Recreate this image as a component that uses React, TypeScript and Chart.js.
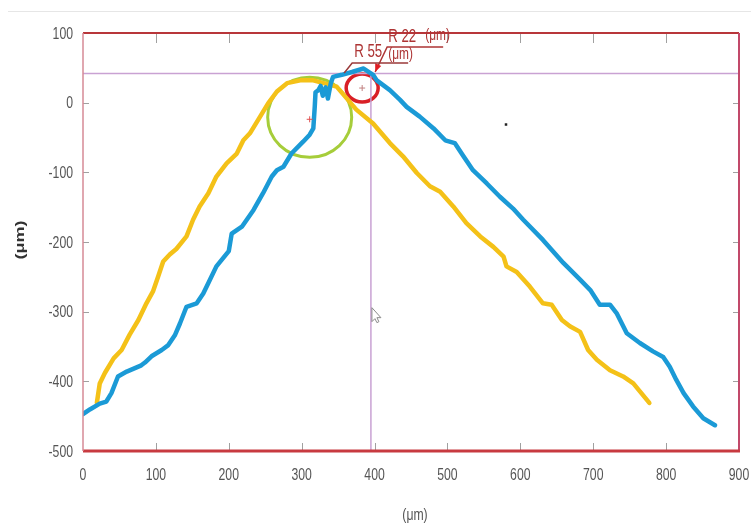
import React, { useEffect, useRef } from "react";
import { Chart, registerables } from "chart.js";
Chart.register(...registerables);

// Blue profile (µm)
const blueX = [0, 10, 23, 32, 39, 48, 60, 80, 85, 94, 108, 117, 126, 133, 142, 156, 165, 172, 183, 200, 204, 218, 234, 247, 259, 266, 275, 286, 302, 311, 316, 318, 319, 323, 326, 329, 333, 336, 340, 343, 355, 369, 385, 398, 403, 421, 435, 444, 462, 481, 497, 510, 522, 535, 554, 572, 590, 604, 631, 659, 682, 696, 709, 723, 732, 746, 764, 782, 796, 805, 814, 824, 837, 851, 867];
const blueY = [-447, -440, -432, -429, -417, -393, -386, -377, -373, -364, -355, -348, -334, -317, -293, -288, -274, -259, -235, -213, -188, -178, -154, -130, -106, -97, -92, -73, -56, -46, -37, -5, 15, 18, 24, 10, 22, 6, 28, 37, 40, 44, 49, 40, 32, 18, 4, -6, -20, -37, -54, -58, -77, -97, -116, -135, -152, -168, -197, -230, -254, -269, -290, -290, -302, -331, -345, -357, -365, -379, -398, -417, -436, -453, -463];

// Yellow profile (µm)
const yellowX = [19, 23, 30, 42, 53, 64, 76, 87, 96, 103, 110, 119, 128, 142, 151, 160, 172, 183, 197, 211, 220, 229, 243, 254, 266, 280, 298, 316, 330, 348, 375, 398, 421, 439, 458, 476, 490, 508, 526, 545, 563, 577, 581, 595, 613, 631, 643, 657, 668, 682, 693, 705, 723, 741, 755, 766, 777];
const yellowY = [-431, -403, -388, -367, -355, -333, -312, -288, -271, -250, -228, -218, -210, -192, -168, -149, -130, -106, -87, -73, -54, -44, -20, -1, 16, 28, 32, 32, 28, 23, -10, -30, -58, -77, -101, -120, -128, -149, -173, -192, -207, -221, -235, -243, -264, -288, -290, -312, -321, -329, -355, -369, -384, -393, -403, -417, -431];

const xMin = 0, xMax = 900, xStep = 100;
const yMin = -500, yMax = 100, yStep = 100;

// cursor reference lines
const refLevelY = 42;
const refLineX = 395;

// fitted circles (centres in µm)
const greenCentre = [311, -21];
const redCentre = [383, 21];
const radiusLabels = ["R 22", "R 55"];
const unitLabel = "(μm)";
const xTitle = "(μm)";
const yTitle = "(μm)";
const strayDot = [580, -31];

const FONT = '"Liberation Sans", Arial, sans-serif';
const SQUISH = 0.72;

function squishText(ctx: any, text: string, x: number, y: number, font: string, color: string, align: string, baseline: string, sx = SQUISH) {
  ctx.save();
  ctx.translate(x, y);
  ctx.scale(sx, 1);
  ctx.font = font;
  ctx.fillStyle = color;
  ctx.textAlign = align;
  ctx.textBaseline = baseline;
  ctx.fillText(text, 0, 0);
  ctx.restore();
}

const decor = {
  id: "decor",
  beforeDatasetsDraw(chart: any) {
    const { ctx, scales } = chart;
    const x = scales.x, y = scales.y;
    ctx.save();
    ctx.strokeStyle = "#a6cd3a";
    ctx.lineWidth = 3;
    ctx.beginPath();
    ctx.ellipse(x.getPixelForValue(greenCentre[0]), y.getPixelForValue(greenCentre[1]), 42, 40, 0, 0, Math.PI * 2);
    ctx.stroke();
    ctx.strokeStyle = "#d91f26";
    ctx.lineWidth = 3.5;
    ctx.beginPath();
    ctx.ellipse(x.getPixelForValue(redCentre[0]), y.getPixelForValue(redCentre[1]), 16, 14, 0, 0, Math.PI * 2);
    ctx.stroke();
    ctx.restore();
  },
  afterDatasetsDraw(chart: any) {
    const { ctx, chartArea, scales } = chart;
    const x = scales.x, y = scales.y;
    const { left, right, top, bottom } = chartArea;
    ctx.save();
    // inward tick marks
    ctx.strokeStyle = "#a0a0a0";
    ctx.lineWidth = 1;
    x.ticks.forEach((t: any) => {
      const px = Math.round(x.getPixelForValue(t.value)) + 0.5;
      if (t.value === xMin || t.value === xMax) return;
      ctx.beginPath();
      ctx.moveTo(px, bottom); ctx.lineTo(px, bottom - 8);
      ctx.moveTo(px, top); ctx.lineTo(px, top + 10);
      ctx.stroke();
    });
    y.ticks.forEach((t: any) => {
      const py = Math.round(y.getPixelForValue(t.value)) + 0.5;
      if (t.value === yMin || t.value === yMax) return;
      ctx.beginPath();
      ctx.moveTo(left, py); ctx.lineTo(left + 6, py);
      ctx.moveTo(right, py); ctx.lineTo(right - 6, py);
      ctx.stroke();
    });
    // tick labels (condensed, as in the capture)
    x.ticks.forEach((t: any) => {
      squishText(ctx, String(t.value), x.getPixelForValue(t.value), bottom + 24, "17px " + FONT, "#555", "center", "middle");
    });
    y.ticks.forEach((t: any) => {
      squishText(ctx, String(t.value).replace("-", "-"), left - 10, y.getPixelForValue(t.value) + 1, "17px " + FONT, "#555", "right", "middle");
    });
    // axis titles
    squishText(ctx, xTitle, (left + right) / 2 + 4, bottom + 64, "17px " + FONT, "#555", "center", "middle");
    ctx.save();
    ctx.translate(20, (top + bottom) / 2 - 2);
    ctx.rotate(-Math.PI / 2);
    ctx.scale(1, SQUISH);
    ctx.font = "bold 18px " + FONT;
    ctx.fillStyle = "#333";
    ctx.textAlign = "center";
    ctx.textBaseline = "middle";
    ctx.fillText(yTitle, 0, 0);
    ctx.restore();

    // frame
    ctx.lineWidth = 2;
    ctx.strokeStyle = "#b8363a";
    ctx.beginPath(); ctx.moveTo(left, top); ctx.lineTo(right, top); ctx.stroke();
    ctx.strokeStyle = "#c2496a";
    ctx.beginPath(); ctx.moveTo(right, top); ctx.lineTo(right, bottom); ctx.stroke();
    ctx.lineWidth = 3;
    ctx.strokeStyle = "#c83a40";
    ctx.beginPath(); ctx.moveTo(left, bottom); ctx.lineTo(right + 1, bottom); ctx.stroke();
    ctx.lineWidth = 1.5;
    ctx.strokeStyle = "#d68a96";
    ctx.beginPath(); ctx.moveTo(left, top); ctx.lineTo(left, bottom); ctx.stroke();

    // centre markers
    const gx = x.getPixelForValue(greenCentre[0]), gy = y.getPixelForValue(greenCentre[1]);
    const rx = x.getPixelForValue(redCentre[0]), ry = y.getPixelForValue(redCentre[1]);
    ctx.lineWidth = 1;
    ctx.strokeStyle = "#e05050";
    ctx.beginPath();
    ctx.moveTo(gx - 3, gy + 2); ctx.lineTo(gx + 3, gy + 2);
    ctx.moveTo(gx, gy - 1); ctx.lineTo(gx, gy + 5);
    ctx.stroke();
    ctx.strokeStyle = "#c08080";
    ctx.beginPath();
    ctx.moveTo(rx - 3, ry); ctx.lineTo(rx + 3, ry);
    ctx.moveTo(rx, ry - 3); ctx.lineTo(rx, ry + 3);
    ctx.stroke();

    // stray dot
    ctx.fillStyle = "#222";
    ctx.fillRect(x.getPixelForValue(strayDot[0]) - 1, y.getPixelForValue(strayDot[1]) - 1, 2.5, 2.5);

    // mouse cursor outline near the vertical line
    const cx = x.getPixelForValue(refLineX) + 1, cy = y.getPixelForValue(-300) - 4;
    ctx.strokeStyle = "#8a8a8a";
    ctx.lineWidth = 1;
    ctx.beginPath();
    ctx.moveTo(cx, cy); ctx.lineTo(cx, cy + 14); ctx.lineTo(cx + 3, cy + 11); ctx.lineTo(cx + 5, cy + 15);
    ctx.lineTo(cx + 7, cy + 14); ctx.lineTo(cx + 5, cy + 10); ctx.lineTo(cx + 9, cy + 10); ctx.closePath();
    ctx.stroke();

    // radius labels with leader lines
    const col = "#ad3434";
    ctx.strokeStyle = col;
    ctx.lineWidth = 1.5;
    // R 22
    ctx.beginPath();
    ctx.moveTo(rx + 81, ry - 41); ctx.lineTo(rx + 25, ry - 41); ctx.lineTo(rx + 13, ry - 16);
    ctx.stroke();
    ctx.fillStyle = "#e01e24";
    ctx.beginPath();
    ctx.moveTo(rx + 13, ry - 16); ctx.lineTo(rx + 13, ry - 25); ctx.lineTo(rx + 19, ry - 22);
    ctx.closePath(); ctx.fill();
    squishText(ctx, radiusLabels[0], rx + 26, ry - 46, "19px " + FONT, col, "left", "alphabetic", 0.7);
    squishText(ctx, unitLabel, rx + 63, ry - 48, "17px " + FONT, col, "left", "alphabetic", 0.7);
    // R 55
    ctx.strokeStyle = "#9a3a3a";
    ctx.beginPath();
    ctx.moveTo(rx + 46, ry - 25); ctx.lineTo(rx - 10, ry - 25); ctx.lineTo(rx - 18, ry - 15);
    ctx.stroke();
    squishText(ctx, radiusLabels[1], rx - 8, ry - 31, "19px " + FONT, col, "left", "alphabetic", 0.7);
    squishText(ctx, unitLabel, rx + 26, ry - 29, "17px " + FONT, col, "left", "alphabetic", 0.7);
    ctx.restore();
  },
};

export default function App() {
  const ref = useRef<HTMLCanvasElement | null>(null);
  useEffect(() => {
    if (!ref.current) return;
    const xTickValues: number[] = [];
    for (let v = xMin; v <= xMax; v += xStep) xTickValues.push(v);
    const yTickValues: number[] = [];
    for (let v = yMin; v <= yMax; v += yStep) yTickValues.push(v);

    const chart = new Chart(ref.current, {
      type: "line",
      data: {
        datasets: [
          {
            data: blueX.map((v, i) => ({ x: v, y: blueY[i] })),
            borderColor: "#1b9ad6",
            borderWidth: 4.5,
            pointRadius: 0,
            tension: 0,
            borderJoinStyle: "round",
            borderCapStyle: "round",
          },
          {
            data: yellowX.map((v, i) => ({ x: v, y: yellowY[i] })),
            borderColor: "#f4c118",
            borderWidth: 4.5,
            pointRadius: 0,
            tension: 0,
            borderJoinStyle: "round",
            borderCapStyle: "round",
          },
          {
            data: [{ x: xMin, y: refLevelY }, { x: xMax, y: refLevelY }],
            borderColor: "#c9a2d3",
            borderWidth: 1.5,
            pointRadius: 0,
          },
          {
            data: [{ x: refLineX, y: refLevelY }, { x: refLineX, y: yMin }],
            borderColor: "#c9a2d3",
            borderWidth: 1.5,
            pointRadius: 0,
          },
        ],
      },
      options: {
        animation: false,
        responsive: false,
        maintainAspectRatio: false,
        layout: { padding: { top: 33, right: 12, left: 0, bottom: 0 } },
        plugins: { legend: { display: false }, tooltip: { enabled: false } },
        scales: {
          x: {
            type: "linear",
            min: xMin,
            max: xMax,
            afterBuildTicks: (s: any) => { s.ticks = xTickValues.map((v) => ({ value: v })); },
            afterFit: (s: any) => { s.height = 75; s.paddingLeft = 0; s.paddingRight = 0; },
            grid: { display: false, drawTicks: false },
            border: { display: false },
            ticks: { display: false },
            title: { display: false, text: xTitle },
          },
          y: {
            type: "linear",
            min: yMin,
            max: yMax,
            afterBuildTicks: (s: any) => { s.ticks = yTickValues.map((v) => ({ value: v })); },
            afterFit: (s: any) => { s.width = 83; s.paddingTop = 0; s.paddingBottom = 0; },
            grid: { display: false, drawTicks: false },
            border: { display: false },
            ticks: { display: false },
            title: { display: false, text: yTitle },
          },
        },
      },
      plugins: [decor],
    } as any);
    return () => chart.destroy();
  }, []);

  return (
    <div style={{ position: "absolute", left: 0, top: 0, width: 751, height: 526, background: "#fff" }}>
      <div style={{ position: "absolute", left: 8, right: 0, top: 11, height: 0, borderTop: "1px solid #e6e6e6" }} />
      <canvas ref={ref} width={751} height={526} style={{ position: "absolute", left: 0, top: 0 }} />
    </div>
  );
}
